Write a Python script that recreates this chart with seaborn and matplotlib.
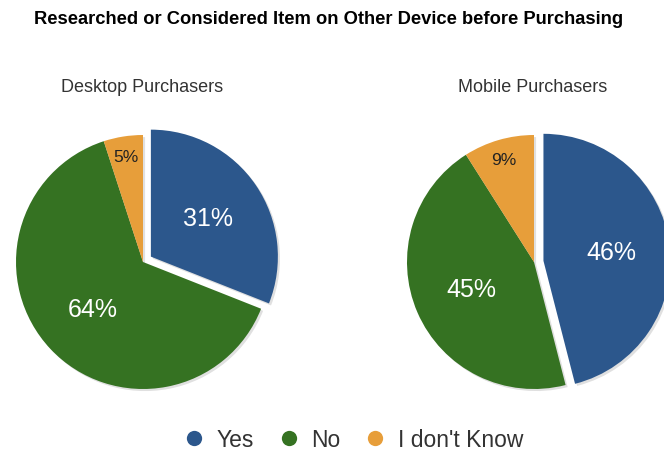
import numpy as np
import matplotlib
matplotlib.use("Agg")
import matplotlib.pyplot as plt
from matplotlib.lines import Line2D
import matplotlib.patheffects as pe
import seaborn as sns

# Survey answers
categories = ["Yes", "No", "I don't Know"]
desktop_values = [31, 64, 5]
mobile_values = [46, 45, 9]
panel_titles = ["Desktop Purchasers", "Mobile Purchasers"]
chart_title = "Researched or Considered Item on Other Device before Purchasing"

sns.set_theme(style="white")
plt.rcParams["font.family"] = ["Liberation Sans", "DejaVu Sans"]

palette = sns.color_palette(["#2c578c", "#357222", "#e79e3a"])

W, H = 664, 452
fig = plt.figure(figsize=(W / 100, H / 100), dpi=100)
ax = fig.add_axes([0, 0, 1, 1])

radius = 127
pull = 0.075 * radius  # offset of the "Yes" slice
shadow = [pe.SimplePatchShadow(offset=(1.5, -1.5), shadow_rgbFace="black", alpha=0.12), pe.Normal()]


def draw_pie(values, cx, cy):
    wedges, _ = ax.pie(values, colors=palette, center=(cx, cy), radius=radius,
                       startangle=90, counterclock=False,
                       explode=[pull, 0, 0],
                       wedgeprops=dict(linewidth=0))
    for w, v in zip(wedges, values):
        w.set_path_effects(shadow)
        mid = np.deg2rad((w.theta1 + w.theta2) / 2)
        x0, y0 = w.center
        if v >= 10:
            frac, col, size = 0.54, "white", 18
        else:
            frac, col, size = 0.84, "#222222", 12.5
        ax.text(x0 + frac * radius * np.cos(mid), y0 + frac * radius * np.sin(mid),
                f"{v}%", ha="center", va="center", color=col, fontsize=size)


draw_pie(desktop_values, 143, H - 263)
draw_pie(mobile_values, 534, H - 263)

ax.set_xlim(0, W)
ax.set_ylim(0, H)
ax.set_aspect("equal")
ax.axis("off")

fig.text(329 / W, 1 - 20 / H, chart_title, ha="center", va="center",
         fontsize=13.2, fontweight="bold", color="black")
fig.text(142 / W, 1 - 88 / H, panel_titles[0], ha="center", va="center",
         fontsize=13, color="#333333")
fig.text(533 / W, 1 - 88 / H, panel_titles[1], ha="center", va="center",
         fontsize=13, color="#333333")

handles = [Line2D([0], [0], marker="o", linestyle="", markersize=11,
                  markerfacecolor=c, markeredgewidth=0) for c in palette]
fig.legend(handles, categories, loc="center", bbox_to_anchor=(353 / W, 1 - 441 / H),
           ncol=3, frameon=False, fontsize=16.5, handlelength=1.0, handletextpad=0.5,
           columnspacing=1.0, labelcolor="#333333")

fig.savefig("out.png", dpi=100)
